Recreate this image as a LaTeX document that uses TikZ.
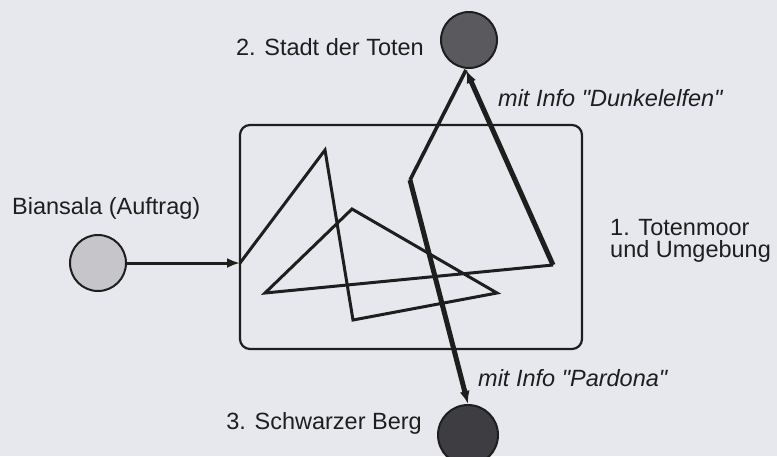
\documentclass[tikz,border=0pt]{standalone}
\usepackage{fontspec}
\setmainfont{Liberation Sans}[Ligatures=TeXOff]
\usetikzlibrary{arrows.meta}
\definecolor{bg}{HTML}{E6E8ED}
\definecolor{ink}{HTML}{1E1E1E}
\definecolor{lightdot}{HTML}{C6C6CA}
\definecolor{middot}{HTML}{5A5A5E}
\definecolor{darkdot}{HTML}{3E3E42}
\begin{document}
\begin{tikzpicture}[x=1pt,y=-1pt,
  dot/.style={circle,draw=ink,line width=2pt,minimum size=56pt,inner sep=0pt},
  lbl/.style={font=\fontsize{23.5}{22}\selectfont,text=ink,inner sep=0pt},
  ilbl/.style={font=\fontsize{23.5}{22}\selectfont\itshape,text=ink,inner sep=0pt},
  thinline/.style={draw=ink,line width=3pt,line join=miter},
  thickline/.style={draw=ink,line width=5pt,line join=miter},
  tip/.style={-{Latex[length=13pt,width=10pt]}}]
\fill[bg] (0,0) rectangle (777,456);
\useasboundingbox (0,0) rectangle (777,456);
% areas
\node[draw=ink,line width=2.2pt,rounded corners=10pt,minimum width=342pt,minimum height=224pt,inner sep=0pt] (moor) at (411,237) {};
\node[dot,fill=lightdot] (bia) at (98,263) {};
\node[dot,fill=middot] (stadt) at (469,40) {};
\node[dot,fill=darkdot,minimum size=60pt] (berg) at (468,435) {};
% labels
\node[lbl,anchor=east] (lstadt) at (424,47) {2. Stadt der Toten};
\node[lbl,anchor=west] (lbia) at (12,208) {Biansala (Auftrag)};
\node[lbl,anchor=north west,align=left] (lmoor) at (610,219) {1. Totenmoor\\und Umgebung};
\node[lbl,anchor=east] (lberg) at (422,423) {3. Schwarzer Berg};
\node[ilbl,anchor=west] (ldunkel) at (498,98) {mit Info "Dunkelelfen"};
\node[ilbl,anchor=west] (lpard) at (478,378) {mit Info "Pardona"};
% route
\coordinate (e0) at (240,263);
\coordinate (p1) at (325,150);
\coordinate (p2) at (353,320);
\coordinate (p3) at (497,293);
\coordinate (p4) at (352,209);
\coordinate (p5) at (265,293);
\coordinate (p6) at (553,265);
\coordinate (s0) at (466,70);
\coordinate (q1) at (410,180);
\draw[thinline,tip] (bia) -- (e0);
\draw[thinline] (e0) -- (p1) -- (p2) -- (p3) -- (p4) -- (p5) -- (p6);
\draw[thickline,tip] (p6) -- (s0);
\draw[thinline,line width=3.6pt] (s0) -- (q1);
\draw[thickline,tip] (q1) -- (berg.north);
\end{tikzpicture}
\end{document}
